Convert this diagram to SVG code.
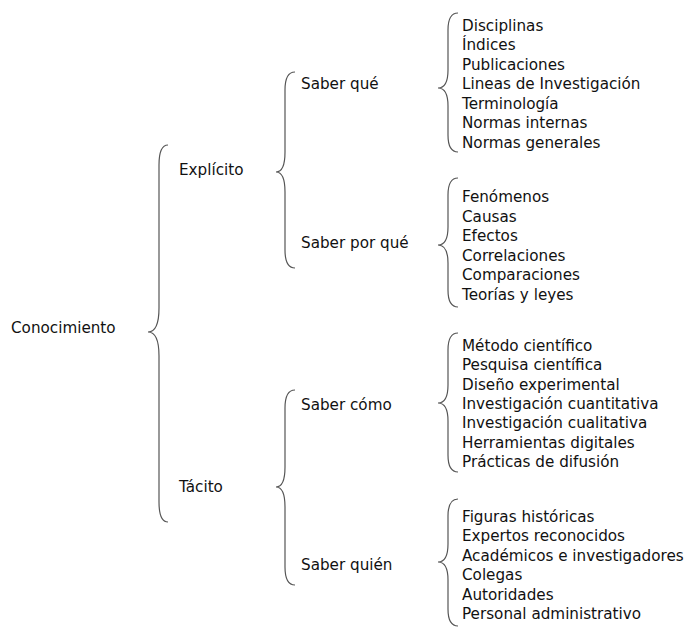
<svg xmlns="http://www.w3.org/2000/svg" width="686" height="627" viewBox="0 0 686 627">
<style>
text{font-family:"DejaVu Sans","Liberation Sans",sans-serif;font-size:15.2px;fill:#111}
.brace{fill:none;stroke:#555;stroke-width:1.2}
</style>
<rect width="686" height="627" fill="#fff"/>
<g id="connectors">
<path class="brace" d="M168,145 Q159,145 159,165 L159,308 Q159,332 148,332 Q159,332 159,356 L159,502 Q159,522 168,522"/>
<path class="brace" d="M295,72 Q285,72 285,90 L285,152 Q285,172 276,172 Q285,172 285,192 L285,250 Q285,268 295,268"/>
<path class="brace" d="M295,390 Q285,390 285,408 L285,467 Q285,487 276,487 Q285,487 285,507 L285,567 Q285,585 295,585"/>
<path class="brace" d="M458,13 Q448,13 448,30 L448,70 Q448,88 438,88 Q448,88 448,106 L448,135 Q448,152 458,152"/>
<path class="brace" d="M458,178 Q448,178 448,195 L448,227 Q448,245 438,245 Q448,245 448,263 L448,290 Q448,307 458,307"/>
<path class="brace" d="M458,333 Q448,333 448,350 L448,385 Q448,403 438,403 Q448,403 448,421 L448,455 Q448,472 458,472"/>
<path class="brace" d="M458,499 Q448,499 448,516 L448,544 Q448,562 438,562 Q448,562 448,580 L448,609 Q448,626 458,626"/>
</g>
<g id="conocimiento"><text x="11" y="333">Conocimiento</text></g>
<g id="explicito"><text x="179" y="175">Explícito</text></g>
<g id="tacito"><text x="179" y="492">Tácito</text></g>
<g id="saber-que"><text x="301" y="89">Saber qué</text></g>
<g id="saber-por-que"><text x="301" y="248">Saber por qué</text></g>
<g id="saber-como"><text x="301" y="410">Saber cómo</text></g>
<g id="saber-quien"><text x="301" y="570">Saber quién</text></g>
<g id="lista-que">
<text x="462" y="30.5">Disciplinas</text>
<text x="462" y="50">Índices</text>
<text x="462" y="69.5">Publicaciones</text>
<text x="462" y="89">Lineas de Investigación</text>
<text x="462" y="108.5">Terminología</text>
<text x="462" y="128">Normas internas</text>
<text x="462" y="147.5">Normas generales</text>
</g>
<g id="lista-por-que">
<text x="462" y="202">Fenómenos</text>
<text x="462" y="221.5">Causas</text>
<text x="462" y="241">Efectos</text>
<text x="462" y="260.5">Correlaciones</text>
<text x="462" y="280">Comparaciones</text>
<text x="462" y="299.5">Teorías y leyes</text>
</g>
<g id="lista-como">
<text x="462" y="351">Método científico</text>
<text x="462" y="370.3">Pesquisa científica</text>
<text x="462" y="389.6">Diseño experimental</text>
<text x="462" y="408.9">Investigación cuantitativa</text>
<text x="462" y="428.2">Investigación cualitativa</text>
<text x="462" y="447.5">Herramientas digitales</text>
<text x="462" y="466.8">Prácticas de difusión</text>
</g>
<g id="lista-quien">
<text x="462" y="522">Figuras históricas</text>
<text x="462" y="541.4">Expertos reconocidos</text>
<text x="462" y="560.8">Académicos e investigadores</text>
<text x="462" y="580.2">Colegas</text>
<text x="462" y="599.6">Autoridades</text>
<text x="462" y="619">Personal administrativo</text>
</g>
</svg>
